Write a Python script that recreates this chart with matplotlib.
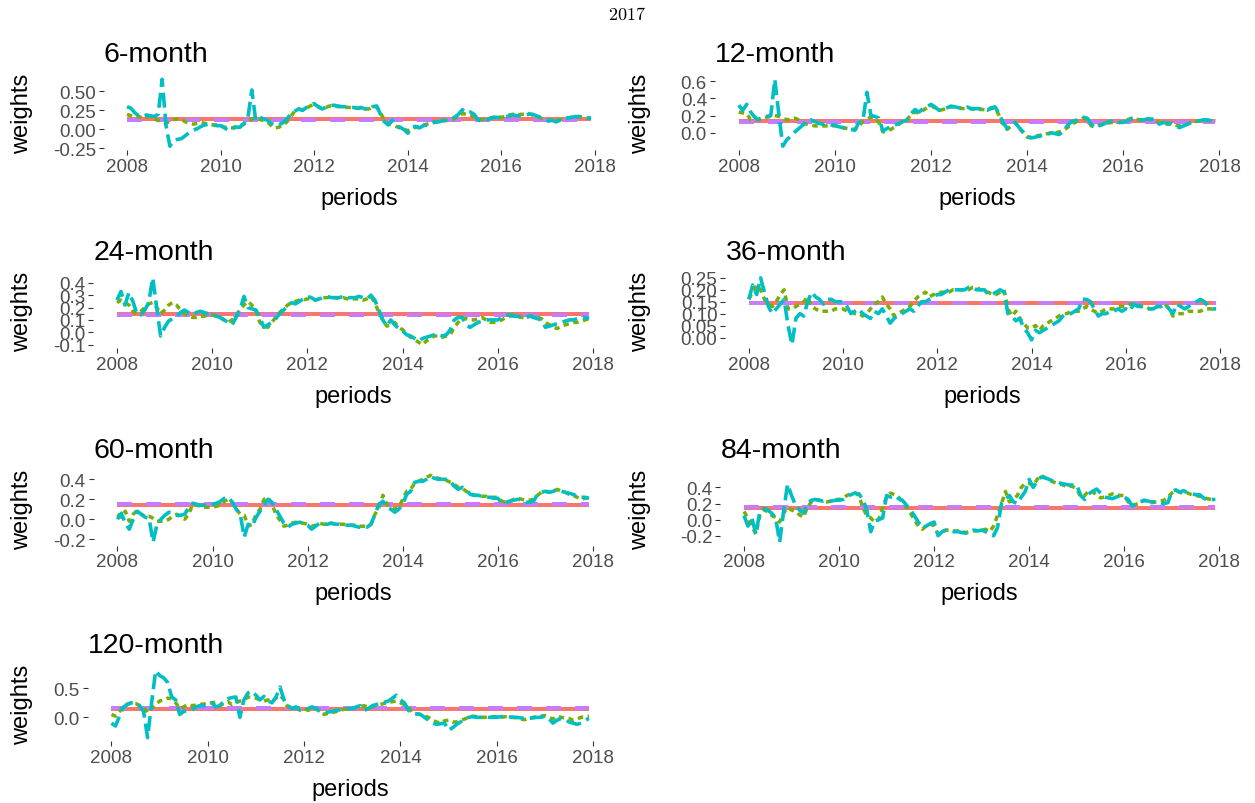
import numpy as np
import matplotlib
matplotlib.use("Agg")
import matplotlib.pyplot as plt

plt.rcParams["font.family"] = ["Liberation Sans", "DejaVu Sans"]
plt.rcParams["mathtext.fontset"] = "cm"
plt.rcParams["lines.scale_dashes"] = False

# monthly periods, Jan 2008 .. Dec 2017
periods = 2008 + np.arange(120) / 12.0

# --- 6-month window ---
green_6 = [0.20, 0.18, 0.16, 0.17, 0.15, 0.16, 0.18, 0.14, 0.12, 0.10, 0.08, 0.11,
           0.13, 0.14, 0.13, 0.10, 0.08, 0.07, 0.08, 0.09, 0.08, 0.07, 0.06, 0.06,
           0.05, 0.03, 0.02, 0.02, 0.04, 0.05, 0.07, 0.10, 0.14, 0.15, 0.13, 0.12,
           0.10, 0.05, 0.02, 0.03, 0.06, 0.10, 0.17, 0.24, 0.27, 0.26, 0.28, 0.31,
           0.33, 0.30, 0.28, 0.29, 0.31, 0.31, 0.30, 0.30, 0.29, 0.29, 0.28, 0.28,
           0.28, 0.27, 0.27, 0.29, 0.30, 0.22, 0.12, 0.08, 0.06, 0.04, 0.02, 0.01,
           -0.02, 0.01, 0.03, 0.04, 0.06, 0.07, 0.08, 0.10, 0.09, 0.11, 0.12, 0.13,
           0.14, 0.18, 0.21, 0.20, 0.19, 0.17, 0.14, 0.13, 0.14, 0.15, 0.16, 0.17,
           0.16, 0.17, 0.19, 0.20, 0.19, 0.20, 0.20, 0.21, 0.19, 0.17, 0.15, 0.13,
           0.12, 0.13, 0.12, 0.13, 0.14, 0.15, 0.16, 0.16, 0.17, 0.16, 0.15, 0.15]
cyan_6 = [0.30, 0.28, 0.22, 0.18, 0.18, 0.19, 0.18, 0.17, 0.20, 0.66, 0.05, -0.22,
          -0.14, -0.13, -0.12, -0.08, -0.04, -0.01, 0.01, 0.04, 0.06, 0.07, 0.06, 0.05,
          0.05, 0.02, -0.01, 0.01, 0.03, 0.03, 0.08, 0.15, 0.52, 0.12, 0.16, 0.14,
          0.12, 0.08, 0.05, 0.06, 0.09, 0.14, 0.20, 0.24, 0.27, 0.25, 0.29, 0.32,
          0.34, 0.30, 0.27, 0.29, 0.31, 0.32, 0.31, 0.30, 0.30, 0.29, 0.29, 0.28,
          0.29, 0.27, 0.26, 0.30, 0.31, 0.20, 0.10, 0.06, 0.12, 0.05, 0.03, 0.00,
          -0.05, 0.03, 0.04, 0.02, 0.05, 0.06, 0.08, 0.10, 0.10, 0.12, 0.12, 0.14,
          0.16, 0.20, 0.26, 0.22, 0.23, 0.20, 0.13, 0.10, 0.12, 0.14, 0.16, 0.16,
          0.15, 0.16, 0.18, 0.19, 0.18, 0.18, 0.19, 0.20, 0.20, 0.18, 0.16, 0.15,
          0.11, 0.12, 0.10, 0.12, 0.14, 0.15, 0.16, 0.17, 0.17, 0.16, 0.15, 0.15]

# --- 12-month window ---
green_12 = [0.24, 0.23, 0.22, 0.15, 0.15, 0.16, 0.17, 0.18, 0.19, 0.20, 0.19, 0.17,
            0.15, 0.16, 0.17, 0.15, 0.12, 0.10, 0.09, 0.08, 0.08, 0.08, 0.08, 0.08,
            0.08, 0.07, 0.06, 0.05, 0.04, 0.04, 0.08, 0.13, 0.16, 0.18, 0.17, 0.12,
            0.01, 0.02, 0.04, 0.07, 0.10, 0.13, 0.15, 0.21, 0.24, 0.23, 0.26, 0.29,
            0.31, 0.29, 0.26, 0.27, 0.29, 0.30, 0.30, 0.29, 0.28, 0.28, 0.28, 0.27,
            0.27, 0.27, 0.26, 0.28, 0.29, 0.20, 0.10, 0.04, 0.08, 0.12, 0.05, 0.00,
            -0.05, -0.05, -0.04, -0.03, -0.02, -0.01, 0.00, 0.00, 0.01, 0.03, 0.06, 0.10,
            0.12, 0.15, 0.17, 0.15, 0.08, 0.07, 0.09, 0.10, 0.11, 0.12, 0.12, 0.12,
            0.13, 0.15, 0.17, 0.16, 0.15, 0.15, 0.16, 0.15, 0.14, 0.12, 0.11, 0.10,
            0.10, 0.09, 0.08, 0.09, 0.10, 0.12, 0.13, 0.14, 0.14, 0.14, 0.14, 0.14]
cyan_12 = [0.32, 0.26, 0.33, 0.24, 0.18, 0.15, 0.17, 0.19, 0.20, 0.62, 0.22, -0.155,
           -0.08, -0.04, 0.01, 0.05, 0.09, 0.13, 0.15, 0.13, 0.11, 0.10, 0.10, 0.09,
           0.09, 0.07, 0.06, 0.05, 0.04, 0.03, 0.12, 0.14, 0.47, 0.20, 0.19, 0.17,
           0.02, 0.05, 0.07, 0.09, 0.11, 0.13, 0.15, 0.22, 0.27, 0.24, 0.28, 0.30,
           0.33, 0.30, 0.26, 0.27, 0.29, 0.31, 0.30, 0.29, 0.29, 0.30, 0.28, 0.28,
           0.28, 0.27, 0.26, 0.29, 0.30, 0.22, 0.12, 0.05, 0.08, 0.12, 0.06, 0.01,
           -0.05, -0.06, -0.05, -0.04, -0.03, -0.02, 0.00, -0.01, -0.02, 0.02, 0.08, 0.13,
           0.14, 0.17, 0.18, 0.17, 0.10, 0.06, 0.08, 0.10, 0.12, 0.14, 0.13, 0.12,
           0.12, 0.14, 0.16, 0.16, 0.15, 0.15, 0.16, 0.16, 0.15, 0.10, 0.12, 0.11,
           0.11, 0.08, 0.06, 0.08, 0.10, 0.12, 0.13, 0.14, 0.15, 0.15, 0.14, 0.13]

# --- 24-month window ---
green_24 = [0.24, 0.26, 0.24, 0.22, 0.17, 0.15, 0.17, 0.20, 0.23, 0.24, 0.20, 0.15,
            0.18, 0.22, 0.24, 0.22, 0.18, 0.15, 0.13, 0.12, 0.12, 0.13, 0.13, 0.14,
            0.14, 0.13, 0.12, 0.10, 0.08, 0.10, 0.14, 0.18, 0.22, 0.25, 0.22, 0.18,
            0.08, 0.05, 0.04, 0.08, 0.12, 0.16, 0.19, 0.22, 0.24, 0.25, 0.26, 0.26,
            0.27, 0.27, 0.26, 0.27, 0.28, 0.28, 0.28, 0.28, 0.27, 0.28, 0.27, 0.27,
            0.27, 0.27, 0.26, 0.27, 0.29, 0.24, 0.16, 0.10, 0.05, 0.06, 0.08, 0.04,
            0.02, -0.01, -0.04, -0.06, -0.08, -0.10, -0.07, -0.05, -0.03, -0.03, -0.04, -0.03,
            -0.02, 0.04, 0.08, 0.12, 0.11, 0.10, 0.10, 0.11, 0.12, 0.10, 0.08, 0.08,
            0.09, 0.10, 0.12, 0.13, 0.14, 0.13, 0.12, 0.12, 0.13, 0.13, 0.12, 0.11,
            0.08, 0.06, 0.04, 0.03, 0.05, 0.06, 0.07, 0.08, 0.08, 0.09, 0.10, 0.11]
cyan_24 = [0.26, 0.33, 0.22, 0.32, 0.25, 0.15, 0.14, 0.18, 0.24, 0.44, 0.20, -0.03,
           0.04, 0.09, 0.11, 0.13, 0.16, 0.18, 0.16, 0.14, 0.16, 0.17, 0.16, 0.15,
           0.15, 0.13, 0.12, 0.10, 0.08, 0.06, 0.12, 0.18, 0.29, 0.20, 0.19, 0.18,
           0.12, 0.04, 0.06, 0.08, 0.11, 0.15, 0.18, 0.21, 0.24, 0.23, 0.25, 0.27,
           0.29, 0.28, 0.26, 0.27, 0.28, 0.29, 0.28, 0.28, 0.28, 0.29, 0.28, 0.28,
           0.28, 0.29, 0.28, 0.27, 0.30, 0.26, 0.18, 0.10, 0.05, 0.10, 0.06, 0.03,
           0.01, -0.02, -0.03, -0.05, -0.07, -0.05, -0.04, -0.03, -0.02, -0.02, -0.03, -0.02,
           0.02, 0.10, 0.12, 0.12, 0.06, 0.04, 0.06, 0.08, 0.09, 0.10, 0.10, 0.10,
           0.10, 0.12, 0.14, 0.14, 0.13, 0.13, 0.12, 0.12, 0.13, 0.12, 0.11, 0.10,
           0.04, 0.05, 0.06, 0.07, 0.08, 0.09, 0.10, 0.10, 0.11, 0.12, 0.12, 0.11]

# --- 36-month window ---
green_36 = [0.16, 0.19, 0.22, 0.20, 0.16, 0.14, 0.13, 0.15, 0.18, 0.20, 0.12, 0.12,
            0.13, 0.14, 0.15, 0.17, 0.13, 0.12, 0.11, 0.11, 0.11, 0.11, 0.12, 0.12,
            0.12, 0.11, 0.11, 0.10, 0.10, 0.09, 0.10, 0.12, 0.14, 0.15, 0.17, 0.14,
            0.12, 0.09, 0.10, 0.11, 0.12, 0.13, 0.15, 0.17, 0.18, 0.19, 0.17, 0.18,
            0.18, 0.19, 0.19, 0.19, 0.20, 0.20, 0.20, 0.20, 0.20, 0.21, 0.21, 0.20,
            0.19, 0.19, 0.18, 0.18, 0.19, 0.20, 0.12, 0.09, 0.11, 0.08, 0.06, 0.04,
            0.04, 0.05, 0.03, 0.05, 0.06, 0.07, 0.08, 0.09, 0.10, 0.10, 0.11, 0.11,
            0.11, 0.12, 0.13, 0.12, 0.11, 0.10, 0.11, 0.12, 0.12, 0.12, 0.13, 0.13,
            0.13, 0.14, 0.14, 0.14, 0.13, 0.13, 0.12, 0.12, 0.13, 0.13, 0.14, 0.12,
            0.09, 0.10, 0.10, 0.10, 0.11, 0.11, 0.11, 0.11, 0.12, 0.12, 0.12, 0.12]
cyan_36 = [0.16, 0.22, 0.18, 0.25, 0.19, 0.13, 0.10, 0.12, 0.14, 0.16, 0.05, -0.03,
           0.08, 0.10, 0.09, 0.15, 0.19, 0.17, 0.16, 0.14, 0.16, 0.16, 0.15, 0.15,
           0.15, 0.13, 0.10, 0.11, 0.12, 0.10, 0.09, 0.08, 0.11, 0.10, 0.12, 0.09,
           0.06, 0.08, 0.09, 0.10, 0.11, 0.12, 0.11, 0.13, 0.15, 0.15, 0.16, 0.17,
           0.18, 0.18, 0.19, 0.20, 0.20, 0.20, 0.20, 0.20, 0.21, 0.21, 0.20, 0.20,
           0.20, 0.18, 0.18, 0.19, 0.20, 0.19, 0.10, 0.09, 0.07, 0.08, 0.04, 0.02,
           -0.01, 0.03, 0.02, 0.03, 0.04, 0.05, 0.06, 0.07, 0.09, 0.10, 0.10, 0.11,
           0.12, 0.16, 0.16, 0.15, 0.12, 0.09, 0.10, 0.10, 0.11, 0.11, 0.12, 0.11,
           0.12, 0.11, 0.14, 0.13, 0.13, 0.12, 0.12, 0.12, 0.13, 0.13, 0.14, 0.12,
           0.10, 0.14, 0.13, 0.12, 0.13, 0.14, 0.15, 0.16, 0.15, 0.13, 0.12, 0.12]

# --- 60-month window ---
green_60 = [0.05, 0.02, 0.08, -0.02, 0.05, 0.09, 0.05, 0.03, 0.03, 0.01, -0.02, -0.02,
            -0.02, 0.00, 0.03, 0.05, 0.02, 0.00, 0.05, 0.15, 0.14, 0.13, 0.12, 0.12,
            0.12, 0.13, 0.14, 0.18, 0.20, 0.17, 0.10, 0.05, 0.04, -0.07, -0.05, 0.05,
            0.10, 0.20, 0.22, 0.15, 0.05, -0.01, -0.07, -0.06, -0.04, -0.03, -0.04, -0.04,
            -0.05, -0.07, -0.06, -0.04, -0.05, -0.05, -0.04, -0.05, -0.05, -0.05, -0.06, -0.06,
            -0.06, -0.07, -0.07, -0.07, -0.05, 0.05, 0.12, 0.24, 0.15, 0.12, 0.10, 0.12,
            0.20, 0.28, 0.30, 0.36, 0.38, 0.40, 0.42, 0.44, 0.42, 0.41, 0.40, 0.39,
            0.37, 0.35, 0.32, 0.31, 0.28, 0.26, 0.24, 0.24, 0.23, 0.23, 0.22, 0.22,
            0.22, 0.18, 0.17, 0.18, 0.20, 0.21, 0.20, 0.19, 0.19, 0.20, 0.24, 0.27,
            0.28, 0.27, 0.28, 0.30, 0.28, 0.27, 0.25, 0.24, 0.22, 0.20, 0.21, 0.22]
cyan_60 = [0.00, 0.06, -0.04, -0.10, 0.00, 0.08, 0.05, 0.02, 0.01, -0.23, -0.05, 0.00,
           0.04, 0.07, 0.06, 0.04, 0.04, 0.05, 0.12, 0.16, 0.15, 0.14, 0.14, 0.15,
           0.15, 0.16, 0.18, 0.21, 0.22, 0.17, 0.10, 0.05, -0.18, -0.05, -0.07, 0.02,
           0.08, 0.14, 0.20, 0.17, 0.10, 0.03, -0.04, -0.08, -0.05, -0.04, -0.03, -0.04,
           -0.06, -0.10, -0.07, -0.04, -0.05, -0.05, -0.04, -0.05, -0.05, -0.06, -0.06, -0.06,
           -0.07, -0.08, -0.08, -0.08, -0.05, 0.05, 0.15, 0.18, 0.12, 0.10, 0.07, 0.10,
           0.15, 0.25, 0.28, 0.37, 0.38, 0.38, 0.40, 0.43, 0.41, 0.40, 0.40, 0.40,
           0.38, 0.33, 0.30, 0.32, 0.30, 0.25, 0.24, 0.24, 0.23, 0.22, 0.22, 0.21,
           0.21, 0.16, 0.17, 0.18, 0.19, 0.20, 0.19, 0.17, 0.17, 0.18, 0.25, 0.27,
           0.28, 0.27, 0.28, 0.30, 0.28, 0.27, 0.26, 0.25, 0.23, 0.22, 0.22, 0.21]

# --- 84-month window ---
green_84 = [0.10, 0.02, -0.08, -0.18, 0.05, 0.12, 0.10, 0.05, 0.03, -0.03, 0.08, 0.15,
            0.12, 0.10, 0.06, 0.03, 0.15, 0.22, 0.25, 0.24, 0.23, 0.22, 0.23, 0.25,
            0.25, 0.27, 0.30, 0.32, 0.33, 0.30, 0.15, 0.05, 0.02, -0.03, 0.00, 0.15,
            0.28, 0.33, 0.31, 0.28, 0.22, 0.15, 0.08, 0.00, -0.08, -0.12, -0.08, -0.05,
            -0.08, -0.18, -0.15, -0.13, -0.13, -0.14, -0.14, -0.15, -0.16, -0.15, -0.14, -0.14,
            -0.13, -0.12, -0.15, -0.08, 0.05, 0.20, 0.35, 0.22, 0.25, 0.30, 0.40, 0.45,
            0.45, 0.42, 0.50, 0.55, 0.52, 0.49, 0.47, 0.45, 0.44, 0.42, 0.42, 0.41,
            0.38, 0.28, 0.30, 0.36, 0.35, 0.30, 0.27, 0.28, 0.30, 0.32, 0.31, 0.30,
            0.30, 0.22, 0.17, 0.19, 0.21, 0.24, 0.22, 0.21, 0.22, 0.23, 0.24, 0.28,
            0.33, 0.36, 0.34, 0.32, 0.33, 0.31, 0.30, 0.29, 0.28, 0.26, 0.25, 0.24]
cyan_84 = [0.05, -0.08, 0.02, -0.18, 0.10, 0.14, 0.12, 0.08, 0.02, -0.28, 0.10, 0.44,
           0.30, 0.18, 0.12, 0.08, 0.20, 0.24, 0.25, 0.24, 0.23, 0.24, 0.23, 0.24,
           0.24, 0.25, 0.28, 0.31, 0.33, 0.32, 0.25, 0.12, -0.15, -0.02, 0.00, 0.02,
           0.30, 0.28, 0.30, 0.26, 0.24, 0.18, 0.12, 0.05, -0.03, -0.10, -0.08, -0.05,
           -0.03, -0.20, -0.15, -0.13, -0.14, -0.15, -0.15, -0.16, -0.17, -0.15, -0.13, -0.14,
           -0.13, -0.15, -0.18, -0.20, -0.10, 0.20, 0.25, 0.30, 0.22, 0.20, 0.28, 0.35,
           0.50, 0.40, 0.48, 0.53, 0.52, 0.50, 0.48, 0.47, 0.45, 0.44, 0.43, 0.43,
           0.43, 0.30, 0.25, 0.32, 0.35, 0.38, 0.33, 0.28, 0.27, 0.26, 0.28, 0.30,
           0.28, 0.25, 0.17, 0.20, 0.22, 0.24, 0.23, 0.22, 0.22, 0.21, 0.20, 0.21,
           0.35, 0.37, 0.34, 0.36, 0.33, 0.32, 0.31, 0.31, 0.27, 0.24, 0.25, 0.25]

# --- 120-month window ---
green_120 = [0.05, 0.02, 0.10, 0.20, 0.23, 0.25, 0.24, 0.20, 0.18, 0.08, 0.15, 0.22,
             0.28, 0.30, 0.33, 0.32, 0.25, 0.15, 0.18, 0.22, 0.20, 0.21, 0.22, 0.23,
             0.22, 0.25, 0.26, 0.20, 0.24, 0.27, 0.22, 0.25, 0.28, 0.30, 0.35, 0.34,
             0.33, 0.30, 0.28, 0.30, 0.27, 0.33, 0.38, 0.30, 0.18, 0.15, 0.15, 0.14,
             0.15, 0.12, 0.15, 0.14, 0.10, 0.05, 0.07, 0.08, 0.10, 0.12, 0.14, 0.15,
             0.15, 0.17, 0.18, 0.20, 0.17, 0.18, 0.20, 0.22, 0.24, 0.25, 0.27, 0.28,
             0.25, 0.22, 0.18, 0.08, 0.06, 0.05, 0.02, 0.00, -0.05, -0.08, -0.10, -0.06,
             -0.05, -0.08, -0.08, -0.05, -0.03, 0.00, 0.02, 0.01, 0.00, 0.00, 0.01, 0.01,
             0.01, 0.00, 0.01, 0.01, 0.00, -0.01, -0.03, -0.04, -0.02, 0.00, 0.01, 0.02,
             0.03, 0.00, -0.03, 0.02, 0.00, -0.01, -0.02, -0.05, -0.03, 0.00, 0.01, 0.02]
cyan_120 = [-0.10, -0.15, 0.02, 0.18, 0.22, 0.25, 0.25, 0.20, 0.10, -0.35, 0.25, 0.80,
            0.72, 0.68, 0.60, 0.35, 0.30, 0.05, 0.10, 0.12, 0.12, 0.18, 0.20, 0.20,
            0.22, 0.25, 0.18, 0.20, 0.28, 0.32, 0.34, 0.35, 0.00, 0.30, 0.42, 0.45,
            0.38, 0.30, 0.36, 0.28, 0.25, 0.35, 0.52, 0.30, 0.20, 0.15, 0.18, 0.12,
            0.12, 0.15, 0.18, 0.15, 0.10, 0.08, 0.09, 0.10, 0.12, 0.13, 0.14, 0.15,
            0.15, 0.18, 0.20, 0.12, 0.15, 0.20, 0.22, 0.25, 0.26, 0.28, 0.33, 0.38,
            0.30, 0.25, 0.12, 0.07, 0.06, 0.05, 0.00, -0.05, -0.10, -0.12, -0.11, -0.10,
            -0.22, -0.18, -0.12, -0.08, -0.03, 0.00, 0.01, 0.00, 0.00, 0.01, 0.00, 0.00,
            0.00, 0.01, 0.02, 0.01, 0.00, 0.00, -0.01, -0.02, -0.02, -0.01, 0.00, 0.00,
            0.02, -0.02, -0.10, -0.05, -0.02, -0.03, -0.08, -0.10, -0.12, -0.10, -0.05, -0.02]

titles = ["6-month", "12-month", "24-month", "36-month", "60-month", "84-month", "120-month"]
green_series = [green_6, green_12, green_24, green_36, green_60, green_84, green_120]
cyan_series = [cyan_6, cyan_12, cyan_24, cyan_36, cyan_60, cyan_84, cyan_120]
equal_weight = [0.143, 0.142, 0.146, 0.144, 0.139, 0.139, 0.143]
purple_level = [0.130, 0.125, 0.143, 0.144, 0.155, 0.156, 0.156]
year_ticks = [2008, 2010, 2012, 2014, 2016, 2018]
y_ticks = [[-0.25, 0.0, 0.25, 0.5],
           [0.0, 0.2, 0.4, 0.6],
           [-0.1, 0.0, 0.1, 0.2, 0.3, 0.4],
           [0.0, 0.05, 0.1, 0.15, 0.2, 0.25],
           [-0.2, 0.0, 0.2, 0.4],
           [-0.2, 0.0, 0.2, 0.4],
           [0.0, 0.5]]
y_fmt = ["%.2f", "%.1f", "%.1f", "%.2f", "%.1f", "%.1f", "%.1f"]

# panel boxes in pixels: left, right, bottom
W, H = 1255, 804
PANEL_H = 73.5
boxes = [(103.8, 614.3, 150.5), (714.9, 1239.3, 150.5),
         (93.4, 612.7, 349.0), (725.4, 1239.5, 349.0),
         (93.8, 612.6, 546.5), (720.4, 1239.0, 546.5),
         (87.6, 612.9, 742.0)]
ylab_x = [22, 640]

RED, GREEN, CYAN, PURPLE = "#F8766D", "#7CAE00", "#00BFC4", "#C77CFF"
PT = 0.72  # px -> pt at 100 dpi

fig = plt.figure(figsize=(W / 100, H / 100), dpi=100)
fig.text(627 / W, 1 - 15 / H, r"$2017$", ha="center", va="center", fontsize=13)

span = periods[-1] - periods[0]
for i, (left, right, bottom) in enumerate(boxes):
    ax = fig.add_axes([left / W, 1 - bottom / H, (right - left) / W, PANEL_H / H])
    g = np.array(green_series[i])
    c = np.array(cyan_series[i])

    ax.plot([periods[0], periods[-1]], [equal_weight[i]] * 2, color=RED,
            lw=4 * PT, solid_capstyle="butt", zorder=1)
    ax.plot([periods[0], periods[-1]], [purple_level[i]] * 2, color=PURPLE,
            lw=4 * PT, dashes=(15 * PT, 14 * PT), dash_capstyle="butt", zorder=2)
    ax.plot(periods, g, color=GREEN, lw=3.5 * PT, dashes=(5.5 * PT, 4.5 * PT),
            dash_capstyle="butt", zorder=3)
    ax.plot(periods, c, color=CYAN, lw=3.6 * PT, dashes=(15 * PT, 6 * PT),
            dash_capstyle="butt", zorder=4)

    lo = min(g.min(), c.min())
    hi = max(g.max(), c.max())
    pad = 0.05 * (hi - lo)
    ax.set_ylim(lo - pad, hi + pad)
    ax.set_xlim(periods[0] - 0.05 * span, periods[-1] + 0.05 * span)

    ax.set_xticks(year_ticks)
    ax.set_xticklabels([str(y) for y in year_ticks])
    ax.set_yticks(y_ticks[i])
    ax.set_yticklabels([y_fmt[i] % v for v in y_ticks[i]])
    ax.tick_params(direction="out", length=5 * PT, width=1.1 * PT, color="#333333",
                   labelcolor="#4D4D4D", labelsize=13.5, pad=3 * PT)
    for s in ax.spines.values():
        s.set_visible(False)
    ax.patch.set_alpha(0)

    top = bottom - PANEL_H
    fig.text(left / W, 1 - (top - 15) / H, titles[i], ha="left", va="baseline",
             fontsize=20.5, color="black")
    fig.text((left + right) / 2 / W, 1 - (bottom + 54) / H, "periods",
             ha="center", va="baseline", fontsize=17, color="black")
    fig.text(ylab_x[i % 2] / W, 1 - (bottom - PANEL_H / 2) / H, "weights",
             ha="center", va="center", rotation=90, fontsize=17, color="black")

fig.savefig("out.png", dpi=100)
